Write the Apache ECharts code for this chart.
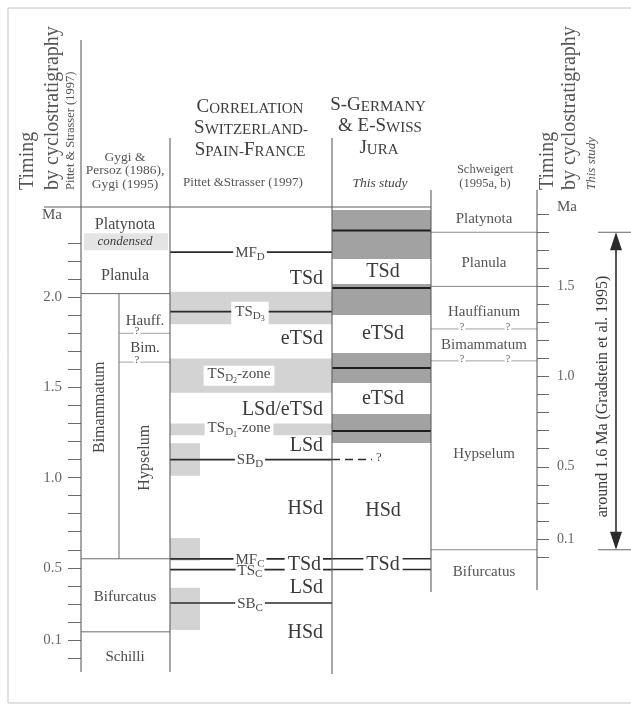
<!DOCTYPE html>
<html><head><meta charset="utf-8">
<script src="https://cdn.jsdelivr.net/npm/echarts@6/dist/echarts.min.js"></script>
<style>html,body{margin:0;padding:0;background:#fff}#c{width:631px;height:706px}</style>
</head><body><div id="c"></div>
<script>
// ================= DATA (Ma) =================
// left scale: timing by cyclostratigraphy, Pittet & Strasser (1997)
const leftTicks = [0, 0.1, 0.2, 0.3, 0.4, 0.5, 0.6, 0.7, 0.8, 0.9, 1.0, 1.1, 1.2, 1.3, 1.4, 1.5, 1.6, 1.7, 1.8, 1.9, 2.0, 2.1, 2.2, 2.3];
const leftTickLabels = [2.0, 1.5, 1.0, 0.5, 0.1];
// right scale: timing by cyclostratigraphy, this study
const rightTicks = [0, 0.1, 0.2, 0.3, 0.4, 0.5, 0.6, 0.7, 0.8, 0.9, 1.0, 1.1, 1.2, 1.3, 1.4, 1.5, 1.6, 1.7, 1.8, 1.9];
const rightTickLabels = [1.5, 1.0, 0.5, 0.1];

// Gygi & Persoz (1986), Gygi (1995)
const gygiZones = ['Platynota', 'Planula', 'Bifurcatus', 'Schilli'];
const gygiZoneLabelMa = [2.40, 2.12, 0.34, 0.005];
const gygiBoundaries = [2.02, 0.55, 0.145];
const gygiCondensed = [2.355, 2.26];
const gygiSubzones = ['Bimammatum', 'Hypselum'];
const gygiSubzoneMa = [1.39, 1.11];
const gygiSubzoneSpan = [2.02, 0.55];
const gygiUpper = ['Hauff.', 'Bim.'];
const gygiUpperMa = [1.87, 1.72];
const gygiQuery = [1.80, 1.64];

// Correlation Switzerland-Spain-France, Pittet & Strasser (1997)
const corrSurfaceNames = ['MF', 'TS', 'SB', 'MF', 'TS', 'SB'];
const corrSurfaceSubs = ['D', 'D3', 'D', 'C', 'C', 'C'];
const corrSurfaceMa = [2.25, 1.92, 1.10, 0.55, 0.49, 0.305];
const corrBands = [[2.03, 1.85], [1.66, 1.47], [1.30, 1.235]];
const corrZoneSubs = ['D2', 'D1'];
const corrZoneMa = [1.57, 1.27];
const corrShortBoxes = [[1.19, 1.01], [0.665, 0.54], [0.39, 0.155]];
const corrTracts = ['TSd', 'eTSd', 'LSd/eTSd', 'LSd', 'HSd', 'TSd', 'LSd', 'HSd'];
const corrTractMa = [2.10, 1.77, 1.375, 1.175, 0.83, 0.515, 0.39, 0.14];

// S-Germany & E-Swiss Jura, this study
const gerBands = [[2.483, 2.212], [2.073, 1.901], [1.691, 1.524], [1.353, 1.192]];
const gerSurfaceMa = [2.370, 2.051, 1.607, 1.258];
const gerTracts = ['TSd', 'eTSd', 'eTSd', 'HSd', 'TSd'];
const gerTractMa = [2.14, 1.80, 1.435, 0.815, 0.515];
const gerTiedMa = [0.55, 0.49];
const gerUncertainMa = [1.10];

// Schweigert (1995a, b) – right scale
const schZones = ['Platynota', 'Planula', 'Hauffianum', 'Bimammatum', 'Hypselum', 'Bifurcatus'];
const schZoneLabelMa = [1.874, 1.63, 1.358, 1.175, 0.571, -0.083];
const schBoundaries = [1.80, 1.50, 0.04];
const schQuery = [1.264, 1.087];
const durationSpan = [1.80, 0.04];
const durationLabel = 'around 1.6 Ma (Gradstein et al. 1995)';
const durationLabelMa = 0.89;

// ================= LAYOUT / STYLE =================
const FONT = 'Liberation Serif';
const TXT = '#4a4a4a';
const HEAD = '#3c3c3c';
const DARK = '#2b2b2b';
const THIN = '#8a8a8a';
const FRAME = '#5e5e5e';
const LIGHT = '#d3d3d3';
const PALE = '#e4e4e4';
const DARKBAND = '#a2a2a2';
const X = { axis: 81, gygiMid: 119, gygiR: 170, box: 200, corrR: 332, gerR: 431, schR: 537,
  arrow: 616, capL: 598, capR: 640, gygiC: 125, gygiOuterC: 100, gygiInnerC: 145, gygiQ: 137,
  corrSurfC: 250, corrZoneC: 239, corrTractR: 323, gerC: 383, gerDashEnd: 372, gerQ: 379,
  schC: 484, schQ1: 462, schQ2: 508, durLabel: 603 };

const mctx = document.createElement('canvas').getContext('2d');
function textW(str, size) { mctx.font = size + 'px "' + FONT + '"'; return mctx.measureText(str).width; }

function ln(x1, y1, x2, y2, stroke, w, dash) {
  return { type: 'line', shape: { x1, y1, x2, y2 }, style: { stroke, lineWidth: w, lineDash: dash || null } };
}
function bx(x1, y1, x2, y2, fill) {
  return { type: 'rect', shape: { x: Math.min(x1, x2), y: Math.min(y1, y2), width: Math.abs(x2 - x1), height: Math.abs(y2 - y1) }, style: { fill } };
}
function tx(x, y, text, size, extra) {
  return { type: 'text', x, y, style: Object.assign({ text, fontSize: size, fontFamily: FONT, fill: TXT, align: 'center', verticalAlign: 'middle' }, extra || {}) };
}
const SUB_RICH = {
  m: { fontSize: 15, fontFamily: FONT, fill: TXT, verticalAlign: 'top' },
  s: { fontSize: 11, fontFamily: FONT, fill: TXT, verticalAlign: 'top', padding: [6, 0, 0, 0] },
  t: { fontSize: 8, fontFamily: FONT, fill: TXT, verticalAlign: 'top', padding: [10, 0, 0, 0] }
};
function subText(name, sub, tail) {
  let s = '{m|' + name + '}{s|' + sub[0] + '}';
  if (sub.length > 1) s += '{t|' + sub.slice(1) + '}';
  if (tail) s += '{m|' + tail + '}';
  return s;
}
function subWidth(name, sub) {
  return textW(name, 15) + textW(sub[0], 11) + (sub.length > 1 ? textW(sub.slice(1), 8) : 0);
}
function P(api, x, v) { return api.coord([x, v]); }
function custom(name, arr, yIdx, draw) {
  return {
    type: 'custom', name, yAxisIndex: yIdx, xAxisIndex: 0, clip: false, silent: true,
    data: arr.map((d) => [X.axis, Array.isArray(d) ? d[0] : (typeof d === 'number' ? d : 0)]),
    renderItem: (params, api) => draw(arr[params.dataIndex], params.dataIndex, api)
  };
}
function inBand(v) { return corrBands.some(b => v <= b[0] && v >= b[1]); }

const series = [
  custom('corrBands', corrBands, 0, (b, i, api) => {
    const p1 = P(api, X.gygiR, b[0]), p2 = P(api, X.corrR, b[1]);
    return bx(p1[0], p1[1], p2[0], p2[1], LIGHT);
  }),
  custom('corrShortBoxes', corrShortBoxes, 0, (b, i, api) => {
    const p1 = P(api, X.gygiR, b[0]), p2 = P(api, X.box, b[1]);
    return bx(p1[0], p1[1], p2[0], p2[1], LIGHT);
  }),
  custom('gerBands', gerBands, 0, (b, i, api) => {
    const p1 = P(api, X.corrR, b[0]), p2 = P(api, X.gerR, b[1]);
    return bx(p1[0], p1[1], p2[0], p2[1], DARKBAND);
  }),
  custom('gygiCondensed', [gygiCondensed], 0, (b, i, api) => {
    const p1 = P(api, X.axis + 3, b[0]), p2 = P(api, X.gygiR - 2, b[1]);
    return { type: 'group', children: [
      bx(p1[0], p1[1], p2[0], p2[1], PALE),
      tx(X.gygiC, (p1[1] + p2[1]) / 2, 'condensed', 13, { fontStyle: 'italic', fill: '#3a3a3a' })
    ] };
  }),
  custom('gygiBoundaries', gygiBoundaries, 0, (v, i, api) => {
    const a = P(api, X.axis, v), b = P(api, X.gygiR, v);
    return ln(a[0], a[1], b[0], b[1], '#6a6a6a', 1);
  }),
  custom('gygiSubcolumn', [gygiSubzoneSpan], 0, (s, i, api) => {
    const a = P(api, X.gygiMid, s[0]), b = P(api, X.gygiMid, s[1]);
    return ln(a[0], a[1], b[0], b[1], '#6a6a6a', 1);
  }),
  custom('gygiQuery', gygiQuery, 0, (v, i, api) => {
    const a = P(api, X.gygiMid, v), b = P(api, X.gygiR, v);
    return { type: 'group', children: [
      ln(a[0], a[1], b[0], b[1], THIN, 0.8),
      tx(X.gygiQ, a[1] - 2, '?', 11, { backgroundColor: '#fff', padding: [0, 1] })
    ] };
  }),
  custom('gerSurfaces', gerSurfaceMa, 0, (v, i, api) => {
    const a = P(api, X.corrR, v), b = P(api, X.gerR, v);
    return ln(a[0], a[1], b[0], b[1], '#1e1e1e', 2);
  }),
  custom('gerTied', gerTiedMa, 0, (v, i, api) => {
    const a = P(api, X.corrR, v), b = P(api, X.gerR, v);
    return ln(a[0], a[1], b[0], b[1], DARK, 1.5);
  }),
  custom('gerUncertain', gerUncertainMa, 0, (v, i, api) => {
    const a = P(api, X.corrR, v), b = P(api, X.gerDashEnd, v);
    return { type: 'group', children: [
      ln(a[0], a[1], b[0], b[1], DARK, 1.5, [8, 5]),
      tx(X.gerQ, a[1] - 2, '?', 13)
    ] };
  }),
  custom('corrSurfaces', corrSurfaceMa, 0, (v, i, api) => {
    const a = P(api, X.gygiR, v), b = P(api, X.corrR, v);
    const name = corrSurfaceNames[i], sub = corrSurfaceSubs[i];
    const w = subWidth(name, sub) + 4;
    const banded = inBand(v);
    const children = [ln(a[0], a[1], b[0], b[1], DARK, 1.7)];
    if (!banded) children.push(bx(X.corrSurfC - w / 2, a[1] - 3, X.corrSurfC + w / 2, a[1] + 3, '#fff'));
    children.push({ type: 'text', x: X.corrSurfC, y: a[1] + 2, style: Object.assign({ text: subText(name, sub), rich: SUB_RICH,
      align: 'center', verticalAlign: 'middle' }, banded ? { backgroundColor: '#fff', padding: [3, 4] } : {}) });
    return { type: 'group', children };
  }),
  custom('corrZones', corrZoneMa, 0, (v, i, api) => {
    const a = P(api, X.corrZoneC, v);
    return { type: 'text', x: a[0], y: a[1] + 1, style: { text: subText('TS', corrZoneSubs[i], '-zone'), rich: SUB_RICH,
      align: 'center', verticalAlign: 'middle', backgroundColor: '#fff', padding: i === 0 ? [1, 4] : [0, 3] } };
  }),
  custom('corrTracts', corrTractMa, 0, (v, i, api) => {
    const a = P(api, X.corrTractR, v);
    const tied = v < gerTiedMa[0] && v > gerTiedMa[1];
    return tx(a[0], a[1], corrTracts[i], 20, Object.assign({ align: 'right', fill: '#3a3a3a' }, tied ? { backgroundColor: '#fff', padding: [0, 2, 0, 3] } : {}));
  }),
  custom('gerTracts', gerTractMa, 0, (v, i, api) => {
    const a = P(api, X.gerC, v);
    const tied = v < gerTiedMa[0] && v > gerTiedMa[1];
    return tx(a[0], a[1], gerTracts[i], 20, Object.assign({ fill: '#3a3a3a' }, tied ? { backgroundColor: '#fff', padding: [0, 3] } : {}));
  }),
  custom('gygiZones', gygiZoneLabelMa, 0, (v, i, api) => {
    const a = P(api, X.gygiC, v);
    return tx(a[0], a[1], gygiZones[i], i >= 2 ? 15 : 16);
  }),
  custom('gygiSubzones', gygiSubzoneMa, 0, (v, i, api) => {
    const a = P(api, i === 0 ? X.gygiOuterC : X.gygiInnerC, v);
    const t = tx(a[0], a[1], gygiSubzones[i], 16);
    t.rotation = Math.PI / 2;
    return t;
  }),
  custom('gygiUpper', gygiUpperMa, 0, (v, i, api) => {
    const a = P(api, X.gygiInnerC, v);
    return tx(a[0], a[1], gygiUpper[i], 15);
  }),
  custom('schBoundaries', schBoundaries, 1, (v, i, api) => {
    const a = P(api, X.gerR, v), b = P(api, X.schR, v);
    return ln(a[0], a[1], b[0], b[1], THIN, 1);
  }),
  custom('schQuery', schQuery, 1, (v, i, api) => {
    const a = P(api, X.gerR, v), b = P(api, X.schR, v);
    return { type: 'group', children: [
      ln(a[0], a[1], b[0], b[1], THIN, 0.8),
      tx(X.schQ1, a[1] - 2, '?', 11, { backgroundColor: '#fff', padding: [0, 1], fill: '#666' }),
      tx(X.schQ2, a[1] - 2, '?', 11, { backgroundColor: '#fff', padding: [0, 1], fill: '#666' })
    ] };
  }),
  custom('schZones', schZoneLabelMa, 1, (v, i, api) => {
    const a = P(api, X.schC, v);
    return tx(a[0], a[1], schZones[i], 15, { fill: '#555' });
  }),
  custom('duration', [durationSpan], 1, (s, i, api) => {
    const top = P(api, X.arrow, s[0]), bot = P(api, X.arrow, s[1]);
    const x = top[0];
    const lab = P(api, X.durLabel, durationLabelMa);
    const t = tx(lab[0], lab[1], durationLabel, 16, { fill: '#3a3a3a' });
    t.rotation = Math.PI / 2;
    return { type: 'group', children: [
      ln(X.capL, top[1], X.capR, top[1], '#666', 1),
      ln(X.capL, bot[1], X.capR, bot[1], '#666', 1),
      ln(x, top[1] + 12, x, bot[1] - 12, DARK, 1.6),
      { type: 'polygon', shape: { points: [[x, top[1]], [x - 6, top[1] + 18], [x + 6, top[1] + 18]] }, style: { fill: DARK } },
      { type: 'polygon', shape: { points: [[x, bot[1]], [x - 6, bot[1] - 18], [x + 6, bot[1] - 18]] }, style: { fill: DARK } },
      t
    ] };
  })
];

// ---- frame & headers (layout) ----
const frameLines = [
  [X.axis, 40, X.axis, 672], [X.gygiR, 138, X.gygiR, 672], [X.corrR, 138, X.corrR, 674],
  [X.gerR, 190, X.gerR, 592], [X.schR, 190, X.schR, 590], [44, 207, X.gerR, 207]
];
function gText(x, y, text, size, extra) {
  return { type: 'text', x, y, z: 10, style: Object.assign({ text, fontSize: size, fontFamily: FONT, fill: TXT, align: 'center', verticalAlign: 'middle' }, extra || {}) };
}
function gRot(x, y, text, size, extra) {
  const t = gText(x, y, text, size, Object.assign({ align: 'left' }, extra || {}));
  t.rotation = Math.PI / 2;
  return t;
}
const CAPS = {
  b: { fontSize: 19, fontFamily: FONT, fill: HEAD, verticalAlign: 'bottom' },
  s: { fontSize: 15, fontFamily: FONT, fill: HEAD, verticalAlign: 'bottom' }
};
function caps(x, y, text) {
  return { type: 'text', x, y, z: 10, style: { text, rich: CAPS, align: 'center', verticalAlign: 'middle' } };
}
const graphic = [
  { type: 'rect', z: 10, shape: { x: 8, y: 8, width: 640, height: 695 }, style: { fill: null, stroke: '#c4c4c4', lineWidth: 1 } },
  ...frameLines.map(l => ({ type: 'line', z: 10, shape: { x1: l[0], y1: l[1], x2: l[2], y2: l[3] }, style: { stroke: FRAME, lineWidth: 1.1 } })),
  gRot(28, 190, 'Timing', 20, { fill: '#555' }),
  gRot(53, 190, 'by cyclostratigraphy', 20, { fill: '#555' }),
  gRot(71, 190, 'Pittet & Strasser (1997)', 12.5, { fill: '#555' }),
  gRot(548, 190, 'Timing', 20, { fill: '#555' }),
  gRot(570, 190, 'by cyclostratigraphy', 20, { fill: '#555' }),
  gRot(592, 190, 'This study', 13, { fill: '#555', fontStyle: 'italic' }),
  gText(125, 157, 'Gygi &', 13.5, { fill: '#555' }),
  gText(125, 170, 'Persoz (1986),', 13.5, { fill: '#555' }),
  gText(125, 184, 'Gygi (1995)', 13.5, { fill: '#555' }),
  caps(250, 107, '{b|C}{s|ORRELATION}'),
  caps(251, 128, '{b|S}{s|WITZERLAND-}'),
  caps(250, 150, '{b|S}{s|PAIN-}{b|F}{s|RANCE}'),
  gText(243, 183, 'Pittet &Strasser (1997)', 13, { fill: '#555' }),
  caps(378, 105, '{b|S-G}{s|ERMANY}'),
  caps(380, 126, '{b|& E-S}{s|WISS}'),
  caps(379, 148, '{b|J}{s|URA}'),
  gText(380, 183, 'This study', 13.5, { fill: '#444', fontStyle: 'italic' }),
  gText(485, 170, 'Schweigert', 12.5, { fill: '#555' }),
  gText(485, 184, '(1995a, b)', 12.5, { fill: '#555' }),
  gText(62, 215, 'Ma', 15, { fill: '#555', align: 'right' }),
  gText(557, 207, 'Ma', 15, { fill: '#555', align: 'left' })
];

const chart = echarts.init(document.getElementById('c'), null, { renderer: 'canvas' });
chart.setOption({
  animation: false,
  backgroundColor: '#fff',
  grid: { left: X.axis, right: 631 - X.schR, top: 207, bottom: 48, containLabel: false },
  xAxis: { type: 'value', min: X.axis, max: X.schR, show: false },
  yAxis: [
    { type: 'value', min: 0, max: 2.5, position: 'left',
      axisLine: { show: false }, splitLine: { show: false },
      axisTick: { show: true, inside: false, length: 13, customValues: leftTicks, lineStyle: { color: '#6a6a6a', width: 1 } },
      axisLabel: { show: true, customValues: leftTickLabels, formatter: v => Number(v).toFixed(1), margin: 19,
        fontSize: 15, fontFamily: FONT, color: '#666' } },
    { type: 'value', min: -0.56, max: 1.94, position: 'right',
      axisLine: { show: false }, splitLine: { show: false },
      axisTick: { show: true, inside: false, length: 12, customValues: rightTicks, lineStyle: { color: '#6a6a6a', width: 1 } },
      axisLabel: { show: true, customValues: rightTickLabels, formatter: v => Number(v).toFixed(1), margin: 20,
        fontSize: 14, fontFamily: FONT, color: '#666' } }
  ],
  graphic,
  series
});
</script>
</body></html>
